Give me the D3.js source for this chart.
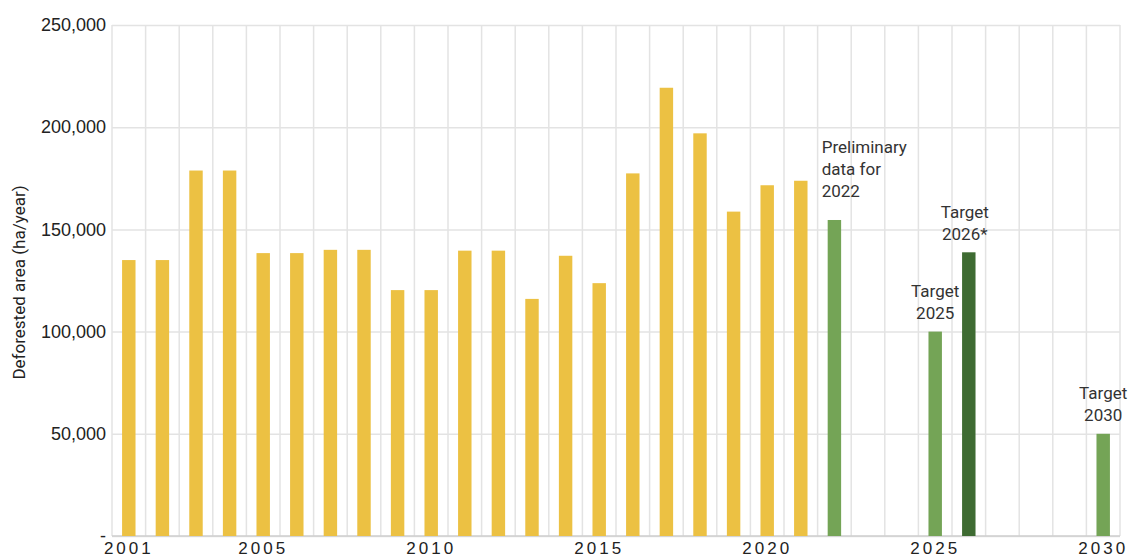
<!DOCTYPE html>
<meta charset="utf-8">
<style>
body { margin: 0; background: #fff; }
.grid line { stroke: #e3e3e3; stroke-width: 1.5px; }
.grid path { display: none; }
.yaxis text { font-family: "Liberation Sans", Arial, sans-serif; font-size: 18px; fill: #222; }
.xaxis text { font-family: "Liberation Sans", Arial, sans-serif; font-size: 17px; fill: #222; letter-spacing: 3px; }
.note { font-family: Roboto, "Noto Sans", sans-serif; font-size: 17px; fill: #333; }
</style>
<body>
<script src="https://d3js.org/d3.v7.min.js"></script>
<script>

// data
var years = d3.range(2001, 2031);
var actualYears = [2001,2002,2003,2004,2005,2006,2007,2008,2009,2010,2011,2012,2013,2014,2015,2016,2017,2018,2019,2020,2021];
var actualValues = [135000,135000,178800,178800,138400,138400,140000,140000,120300,120300,139600,139600,116000,137100,123700,177400,219300,197000,158700,171600,173800];
var prelimYears = [2022];
var prelimValues = [154600];
var targetYears = [2025,2026,2030];
var targetValues = [100000,138800,50000];
var targetKind = ["light","dark","light"];
var yTicks = [0,50000,100000,150000,200000,250000];
var xTickYears = [2001,2005,2010,2015,2020,2025,2030];

var margin = {top: 25, right: 12, bottom: 22, left: 112},
    width = 1132 - margin.left - margin.right,
    height = 558 - margin.top - margin.bottom;

var svg = d3.select("body").append("svg")
    .attr("width", 1132)
    .attr("height", 558)
  .append("g")
    .attr("transform", "translate(" + margin.left + "," + margin.top + ")");

var xb = d3.scaleBand().domain(years).range([0, width]);
var y = d3.scaleLinear().domain([0, 250000]).range([height, 0]);

// vertical grid at band boundaries
svg.append("g").attr("class", "grid")
  .selectAll("line").data(years.concat([2031]))
  .enter().append("line")
    .attr("x1", function(d) { return d == 2031 ? width : xb(d); })
    .attr("x2", function(d) { return d == 2031 ? width : xb(d); })
    .attr("y1", 0).attr("y2", height);

// horizontal grid
svg.append("g").attr("class", "grid")
    .call(d3.axisLeft(y).tickValues(yTicks).tickSize(-width).tickFormat(""));

// y axis labels
var yAxis = svg.append("g").attr("class", "yaxis")
    .call(d3.axisLeft(y).tickValues(yTicks).tickSize(0).tickPadding(6)
      .tickFormat(function(d) { return d == 0 ? "-" : d3.format(",")(d); }));
yAxis.select(".domain").remove();

// bottom baseline
svg.append("line")
    .attr("x1", 0).attr("x2", width)
    .attr("y1", height).attr("y2", height)
    .style("stroke", "#cfcfcf").style("stroke-width", 1.5);

var bw = xb.bandwidth() * 0.4;
function bx(d) { return xb(d) + (xb.bandwidth() - bw) / 2; }

function bars(ys, vs, color) {
  svg.append("g").selectAll("rect").data(ys)
    .enter().append("rect")
      .attr("x", function(d) { return bx(d); })
      .attr("width", bw)
      .attr("y", function(d, i) { return y(vs[i]); })
      .attr("height", function(d, i) { return height - y(vs[i]); })
      .style("fill", function(d, i) { return typeof color == "function" ? color(i) : color; });
}

bars(actualYears, actualValues, "#ecc143");
bars(prelimYears, prelimValues, "#74a456");
bars(targetYears, targetValues, function(i) { return targetKind[i] == "dark" ? "#3e6b32" : "#74a456"; });

// x axis labels
var xAxis = svg.append("g").attr("class", "xaxis")
    .attr("transform", "translate(0," + height + ")")
    .call(d3.axisBottom(xb).tickValues(xTickYears).tickSize(0).tickPadding(6));
xAxis.select(".domain").remove();

// y axis title
svg.append("text")
    .attr("transform", "translate(" + (-87) + "," + (height / 2 + 2) + ") rotate(-90)")
    .attr("text-anchor", "middle")
    .style("font-family", "Roboto, 'Noto Sans', sans-serif")
    .style("font-size", "17px")
    .style("fill", "#222")
    .text("Deforested area (ha/year)");

// annotations
function note(lines, xpos, ytop, anchor) {
  var t = svg.append("text").attr("class", "note").attr("text-anchor", anchor);
  lines.forEach(function(l, i) {
    t.append("tspan").attr("x", xpos).attr("y", ytop + i * 22).text(l);
  });
}
note(["Preliminary", "data for", "2022"], bx(2022) - 6, 153 - margin.top, "start");
note(["Target", "2026*"], bx(2026) + bw / 2 - 4, 218 - margin.top, "middle");
note(["Target", "2025"], bx(2025) + bw / 2, 297 - margin.top, "middle");
note(["Target", "2030"], bx(2030) + bw / 2, 399 - margin.top, "middle");

</script>
</body>
